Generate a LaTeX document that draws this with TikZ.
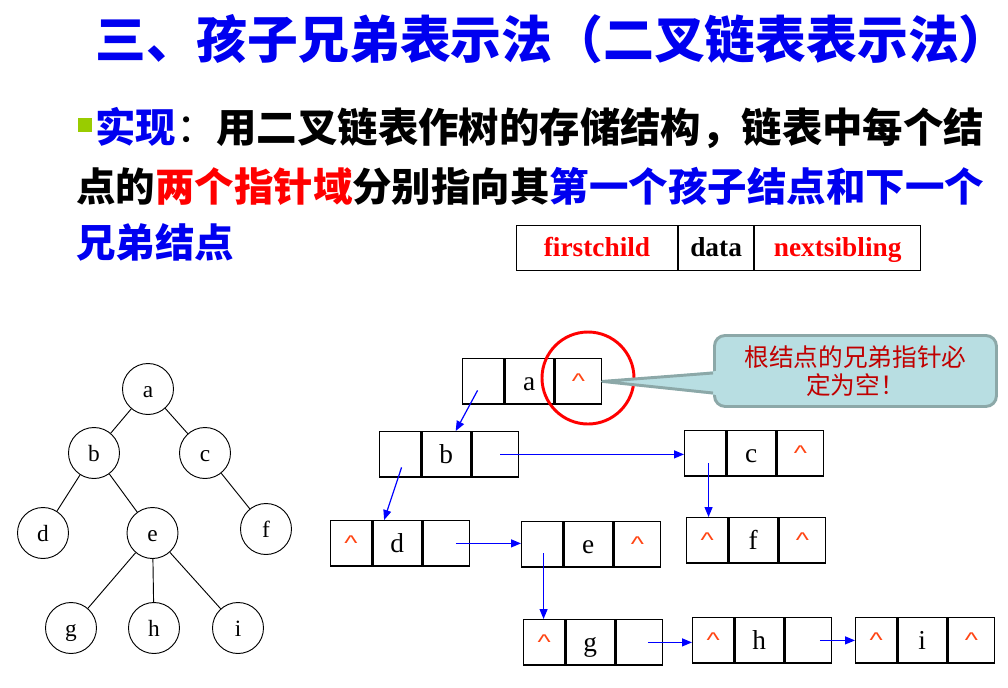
\documentclass[tikz,border=0pt]{standalone}
\usepackage{fontspec}
\usepackage{graphicx}
\setmainfont{Liberation Serif}
\newfontfamily\cjk{Noto Sans CJK SC}
\newfontfamily\arialf{Liberation Sans}
\usetikzlibrary{calc,arrows.meta}
\definecolor{tblue}{RGB}{0,0,240}
\definecolor{tred}{RGB}{255,0,0}
\definecolor{tblack}{RGB}{0,0,0}
\definecolor{bulletc}{RGB}{153,204,0}
\definecolor{caretc}{RGB}{255,69,20}
\definecolor{callfill}{RGB}{184,222,226}
\definecolor{callline}{RGB}{140,168,168}
\definecolor{calltext}{RGB}{192,0,0}
\definecolor{ptrblue}{RGB}{0,0,255}
\newcommand{\caretmark}{{\color{caretc}\scalebox{1.05}[0.8]{\arialf\fontsize{20pt}{20pt}\selectfont\textasciicircum}}}
\newcommand{\lineA}{{\color{tblue}实现}{\color{tblack}\mdseries ：}{\color{tblack}用二叉链表作树的存储结构，链表中每个结}}
\newcommand{\lineB}{{\color{tblack}点的}{\color{tred}两个指针域}{\color{tblack}分别指向其}{\color{tblue}第一个孩子结点和下一个}}
\newcommand{\lineC}{{\color{tblue}兄弟结点}}
\newcommand{\listnode}[6]{%
  \node[cL] (#1l) at (#2,#3) {#4};
  \node[cD] (#1d) at (#1l.north east) {#5};
  \node[cR] (#1r) at (#1d.north east) {#6};}
\begin{document}
\begin{tikzpicture}[x=0.75pt,y=-0.75pt,
  cell/.style={draw, line width=1.1pt, inner sep=0pt, minimum height=34pt, anchor=north west},
  cL/.style={cell, minimum width=30.5pt},
  cD/.style={cell, minimum width=36.5pt, font=\fontsize{20.5pt}{20.5pt}\selectfont, text height=14pt, text depth=0pt},
  cR/.style={cell, minimum width=35pt},
  tnode/.style={circle, draw, line width=0.7pt, minimum size=38.25pt, inner sep=0pt, font=\fontsize{17.5pt}{17.5pt}\selectfont, text height=12.9pt, text depth=0pt},
  tedge/.style={line width=0.7pt},
  ptr/.style={draw=ptrblue, line width=0.9pt, -{Triangle[length=7.5pt,width=6pt]}},
  txt/.style={inner sep=0pt, anchor=base west, font=\cjk\bfseries\fontsize{30pt}{30pt}\selectfont},
  tcell/.style={draw, line width=0.8pt, inner sep=0pt, minimum height=33.75pt, anchor=north west},
  tbtxt/.style={inner sep=0pt, font=\bfseries\fontsize{20.5pt}{20.5pt}\selectfont, text height=13pt, text depth=0pt}]
\fill[white] (0,0) rectangle (1008,687);
\useasboundingbox (0,0) rectangle (1008,687);
% title
\node[anchor=base west, inner sep=0pt, font=\cjk\bfseries\fontsize{38.1pt}{38.1pt}\selectfont, text=tblue] (title) at (95,58) {三、孩子兄弟表示法（二叉链表表示法）};
% bullet text
\node[fill=bulletc, minimum size=10.5pt, inner sep=0pt, anchor=north west] (bul) at (78,118) {};
\node[txt, font=\cjk\bfseries\fontsize{30.3pt}{30.3pt}\selectfont] (l1) at (95,142) {\lineA};
\node[txt, font=\cjk\bfseries\fontsize{29.6pt}{29.6pt}\selectfont] (l2) at (76,201) {\lineB};
\node[txt, font=\cjk\bfseries\fontsize{29.6pt}{29.6pt}\selectfont] (l3) at (76,257) {\lineC};
% field table
\node[tcell, minimum width=120.75pt] (tfc) at (516,225) {};
\node[tcell, minimum width=56.25pt] (tda) at (tfc.north east) {};
\node[tcell, minimum width=124.5pt] (tns) at (tda.north east) {};
\node[tbtxt, text=tred] (tfct) at (tfc.center) {firstchild};
\node[tbtxt, text=black] (tdat) at (tda.center) {data};
\node[tbtxt, text=tred] (tnst) at (tns.center) {nextsibling};
% tree
\node[tnode] (ta) at (148,389) {a};
\node[tnode] (tb) at (94,453) {b};
\node[tnode] (tc) at (205,453) {c};
\node[tnode] (td) at (43,533) {d};
\node[tnode] (te) at (152.5,533) {e};
\node[tnode] (tf) at (266,529) {f};
\node[tnode] (tg) at (71,628) {g};
\node[tnode] (th) at (154,628) {h};
\node[tnode] (ti) at (238,628) {i};
\draw[tedge] (ta) -- (tb);
\draw[tedge] (ta) -- (tc);
\draw[tedge] (tb) -- (td);
\draw[tedge] (tb) -- (te);
\draw[tedge] (tc) -- (tf);
\draw[tedge] (te) -- (tg);
\draw[tedge] (te) -- (th);
\draw[tedge] (te) -- (ti);
% linked nodes
\listnode{a}{462}{358}{}{a}{\caretmark}
\listnode{b}{379}{431}{}{b}{}
\listnode{c}{684}{430}{}{c}{\caretmark}
\listnode{d}{330}{520}{\caretmark}{d}{}
\listnode{e}{521}{521}{}{e}{\caretmark}
\listnode{f}{686}{517}{\caretmark}{f}{\caretmark}
\listnode{g}{523}{619}{\caretmark}{g}{}
\listnode{h}{692}{617}{\caretmark}{h}{}
\listnode{i}{855}{617}{\caretmark}{i}{\caretmark}
% pointers
\coordinate (p1) at ($(al.center)+(-5.5,9)$);
\coordinate (q1) at ($(bd.north)+(9.5,0)$);
\draw[ptr] (p1) -- (q1);
\coordinate (p2) at ($(br.center)+(5,0)$);
\draw[ptr] (p2) -- (p2 -| cl.west);
\coordinate (p3) at ($(bl.center)+(1.5,13)$);
\coordinate (q3) at ($(dd.north west)+(12,0)$);
\draw[ptr] (p3) -- (q3);
\coordinate (p4) at ($(cl.center)+(3.5,10)$);
\draw[ptr] (p4) -- (p4 |- fl.north);
\coordinate (p5) at ($(dr.center)+(9.5,0)$);
\draw[ptr] (p5) -- (p5 -| el.west);
\coordinate (p6) at ($(el.center)+(1.5,9)$);
\draw[ptr] (p6) -- (p6 |- gl.north);
\coordinate (p7) at ($(gr.center)+(8.5,0)$);
\draw[ptr] (p7) -- (p7 -| hl.west);
\coordinate (p8) at ($(hr.center)+(11.5,0)$);
\draw[ptr] (p8) -- (p8 -| il.west);
% red ring
\node[circle, draw=red, line width=2.2pt, minimum size=69pt, inner sep=0pt] (ring) at (588,378) {};
% callout
\node[draw=callline, fill=callfill, line width=2.2pt, rounded corners=8pt, minimum width=211.5pt, minimum height=53.25pt, anchor=north west, inner sep=0pt, align=center, text=calltext, font=\cjk\fontsize{18.5pt}{21pt}\selectfont] (call) at (713,334) {根结点的兄弟指针必\\定为空！};
\coordinate (tip) at (ar.east);
\coordinate (wu) at ($(call.north west)+(0,39)$);
\coordinate (wl) at ($(call.north west)+(0,59)$);
\coordinate (wu2) at ($(call.north west)+(4,37)$);
\coordinate (wl2) at ($(call.north west)+(4,61)$);
\fill[callfill] (tip) -- (wu2) -- (wl2) -- cycle;
\draw[callline, line width=2.2pt, line join=round] (wu) -- (tip) -- (wl);
\end{tikzpicture}
\end{document}
